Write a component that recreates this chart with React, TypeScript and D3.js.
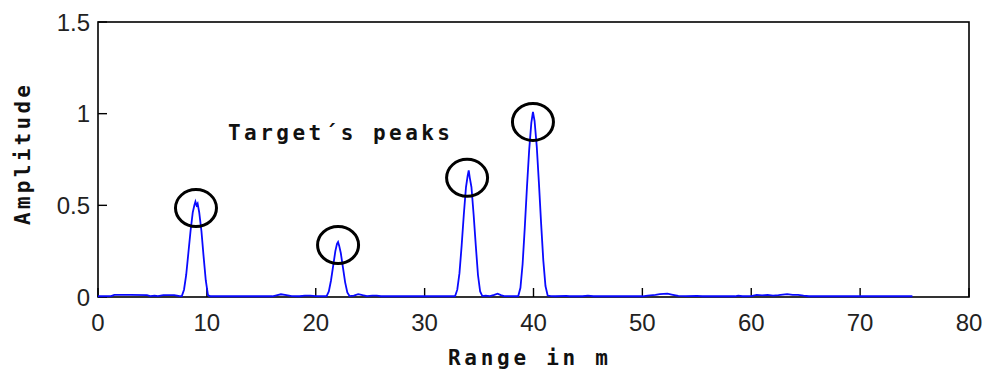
import React from "react";
import * as d3 from "d3";

const rangeM: number[] = [
  0, 1.2, 1.5, 3, 4.5, 4.8, 5.2, 5.5, 6, 7, 7.5,
  7.7, 7.9, 8.1, 8.3, 8.5, 8.7, 8.85, 8.95, 9.05, 9.15, 9.3, 9.5, 9.7, 9.9, 10.1, 10.3,
  16, 16.3, 16.8, 17.3, 17.8, 18.5, 19, 19.5, 20, 20.7,
  21.0, 21.2, 21.4, 21.6, 21.8, 21.95, 22.05, 22.15, 22.3, 22.5, 22.7, 22.9, 23.1,
  23.5, 23.9, 24.3, 24.7, 25.2, 25.6, 26, 32.6,
  32.8, 33.0, 33.2, 33.4, 33.6, 33.8, 33.95, 34.05, 34.15, 34.3, 34.5, 34.7, 34.9, 35.1, 35.3,
  35.6, 36.0, 36.4, 36.7, 37.0, 37.3, 38.3,
  38.6, 38.8, 39.0, 39.2, 39.4, 39.6, 39.8, 39.95, 40.1, 40.3, 40.5, 40.7, 40.9, 41.1, 41.3,
  41.6, 42, 43, 43.3, 44.5, 45, 45.5, 46.5, 47, 50, 50.5, 51.2, 51.6, 52.3, 52.8, 53.3, 54,
  55, 55.5, 58.5, 58.8, 59.2, 60, 60.5, 61, 61.5, 62, 62.5, 63.3, 63.8, 64.3, 64.8, 65.3, 74.8,
];

const amplitude: number[] = [
  0.004, 0.005, 0.012, 0.012, 0.01, 0.005, 0.007, 0.005, 0.01, 0.01, 0.005,
  0.005, 0.04, 0.12, 0.24, 0.36, 0.46, 0.5, 0.52, 0.5, 0.51, 0.46, 0.36, 0.22, 0.09, 0.01, 0.004,
  0.004, 0.008, 0.015, 0.01, 0.005, 0.004, 0.007, 0.008, 0.005, 0.004,
  0.005, 0.03, 0.09, 0.17, 0.25, 0.29, 0.3, 0.28, 0.24, 0.16, 0.08, 0.025, 0.005,
  0.008, 0.016, 0.01, 0.005, 0.007, 0.007, 0.004, 0.004,
  0.005, 0.04, 0.13, 0.28, 0.45, 0.6, 0.66, 0.69, 0.65, 0.6, 0.45, 0.28, 0.12, 0.03, 0.005,
  0.007, 0.005, 0.012, 0.018, 0.01, 0.005, 0.004,
  0.005, 0.05, 0.18, 0.38, 0.6, 0.8, 0.95, 1.01, 0.96, 0.82, 0.62, 0.4, 0.2, 0.06, 0.008,
  0.005, 0.004, 0.006, 0.004, 0.004, 0.007, 0.004, 0.005, 0.004, 0.004, 0.008, 0.012, 0.016, 0.018, 0.012, 0.006, 0.005,
  0.006, 0.004, 0.004, 0.007, 0.004, 0.005, 0.012, 0.009, 0.011, 0.007, 0.01, 0.016, 0.012, 0.012, 0.007, 0.004, 0.004,
];

const peakX: number[] = [9.0, 22.05, 33.9, 39.95];
const peakY: number[] = [0.485, 0.284, 0.65, 0.955];

const xTicks: number[] = [0, 10, 20, 30, 40, 50, 60, 70, 80];
const yTicks: number[] = [0, 0.5, 1, 1.5];
const yTickLabels: string[] = ["0", "0.5", "1", "1.5"];

const W = 984;
const H = 374;
const left = 98;
const right = 969;
const top = 22;
const bottom = 297;

export default function App() {
  const x = d3.scaleLinear().domain([0, 80]).range([left, right]);
  const y = d3.scaleLinear().domain([0, 1.5]).range([bottom, top]);
  const pts: [number, number][] = rangeM.map((r, i) => [r, amplitude[i]]);
  const line = d3
    .line<[number, number]>()
    .x((d) => x(d[0]))
    .y((d) => y(d[1]));

  const tickFont = "'Liberation Sans', Arial, sans-serif";
  const boldFont = "'DejaVu Sans Mono', monospace";

  return (
    <svg
      width={W}
      height={H}
      style={{ position: "absolute", left: 0, top: 0, background: "#fff" }}
    >
      <rect x={0} y={0} width={W} height={H} fill="#fff" />
      <rect
        x={left}
        y={top}
        width={right - left}
        height={bottom - top}
        fill="none"
        stroke="#000"
        strokeWidth={1.6}
      />
      {xTicks.map((t) => (
        <g key={"x" + t}>
          <line x1={x(t)} x2={x(t)} y1={bottom} y2={bottom - 9} stroke="#000" strokeWidth={1.4} />
          <text x={x(t)} y={331} textAnchor="middle" fontFamily={tickFont} fontSize={24} fill="#222">
            {t}
          </text>
        </g>
      ))}
      {yTicks.map((t, i) => (
        <g key={"y" + t}>
          <line x1={left} x2={left + 9} y1={y(t)} y2={y(t)} stroke="#000" strokeWidth={1.4} />
          <text x={90} y={y(t) + 8.5} textAnchor="end" fontFamily={tickFont} fontSize={24} fill="#222">
            {yTickLabels[i]}
          </text>
        </g>
      ))}
      <path d={line(pts) || ""} fill="none" stroke="#0a0aff" strokeWidth={1.8} />
      {peakX.map((p, i) => (
        <ellipse
          key={"c" + i}
          cx={x(p)}
          cy={y(peakY[i])}
          rx={20.5}
          ry={18.5}
          fill="none"
          stroke="#000"
          strokeWidth={3}
        />
      ))}
      <text
        x={228}
        y={140}
        fontFamily={boldFont}
        fontWeight="bold"
        fontSize={21}
        textLength={222}
        lengthAdjust="spacing"
        fill="#111"
      >
        Target´s peaks
      </text>
      <text
        x={448}
        y={365}
        fontFamily={boldFont}
        fontWeight="bold"
        fontSize={21}
        textLength={160}
        lengthAdjust="spacing"
        fill="#111"
      >
        Range in m
      </text>
      <text
        transform="translate(30,225) rotate(-90)"
        fontFamily={boldFont}
        fontWeight="bold"
        fontSize={21}
        textLength={140}
        lengthAdjust="spacing"
        fill="#111"
      >
        Amplitude
      </text>
    </svg>
  );
}
